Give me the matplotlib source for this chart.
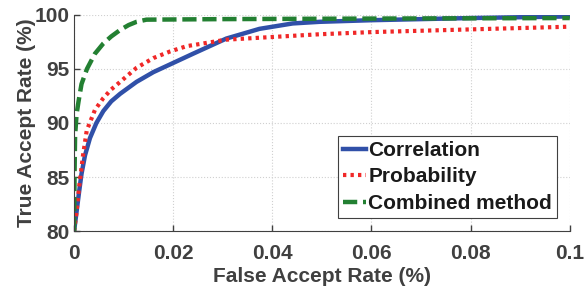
import matplotlib
matplotlib.use("Agg")
import matplotlib.pyplot as plt
import numpy as np

# Data
corr_x = [0, 0.0005, 0.001, 0.0015, 0.0022, 0.0032, 0.0045, 0.0059, 0.0075, 0.0093, 0.0126, 0.016,
          0.0193, 0.024, 0.0307, 0.0374, 0.0441, 0.0495, 0.06, 0.08, 0.1]
corr_y = [80, 81.8, 83.6, 85.3, 87.0, 88.6, 90.0, 91.1, 92.0, 92.7, 93.8, 94.7,
          95.4, 96.4, 97.8, 98.7, 99.2, 99.35, 99.5, 99.7, 99.85]

prob_x = [0, 0.0005, 0.001, 0.0018, 0.00255, 0.0042, 0.0059, 0.0075, 0.0093, 0.0126, 0.016, 0.0193,
          0.0227, 0.0307, 0.0495, 0.06, 0.08, 0.1]
prob_y = [80, 81.8, 84.0, 87.0, 89.3, 91.2, 92.3, 93.1, 93.8, 95.1, 96.0, 96.6,
          97.1, 97.7, 98.2, 98.4, 98.65, 98.9]

comb_x = [0, 0.0001, 0.0002, 0.0005, 0.0009, 0.0015, 0.0026, 0.0042, 0.0059, 0.0075, 0.0093, 0.011,
          0.0126, 0.0146, 0.03, 0.06, 0.1]
comb_y = [80, 85.5, 88.8, 90.8, 92.0, 93.6, 95.0, 96.4, 97.35, 98.0, 98.6, 99.05,
          99.35, 99.55, 99.6, 99.65, 99.7]

xticks = [0, 0.02, 0.04, 0.06, 0.08, 0.1]
xticklabels = ["0", "0.02", "0.04", "0.06", "0.08", "0.1"]
yticks = [80, 85, 90, 95, 100]

plt.rcParams['font.family'] = ['Liberation Sans', 'DejaVu Sans']
plt.rcParams['font.weight'] = 'bold'

fig = plt.figure(figsize=(5.88, 2.9), dpi=100)
ax = fig.add_axes([0.126, 0.203, 0.843, 0.746])

ax.plot(corr_x, corr_y, color='#3050a8', lw=3.2, ls='-', label='Correlation')
ax.plot(prob_x, prob_y, color='#f02828', lw=3.0, ls=(0, (0.8, 1.0)), label='Probability')
ax.plot(comb_x, comb_y, color='#238032', lw=3.2, ls=(0, (3.2, 1.3)), label='Combined method')

ax.set_xlim(0, 0.1)
ax.set_ylim(80, 100)
ax.set_xticks(xticks)
ax.set_xticklabels(xticklabels)
ax.set_yticks(yticks)
gray = '#404040'
ax.tick_params(direction='in', length=4, colors=gray, labelsize=15, width=1)
ax.tick_params(axis='x', pad=9)
ax.tick_params(axis='y', pad=3)
for lab in ax.get_xticklabels() + ax.get_yticklabels():
    lab.set_fontweight('bold')
ax.grid(True, ls=':', color='#d0d0d0', lw=0.8)
ax.spines['top'].set_visible(False)
ax.spines['right'].set_visible(False)
for s in ['left', 'bottom']:
    ax.spines[s].set_color(gray)
ax.set_xlabel('False Accept Rate (%)', fontsize=15, fontweight='bold', color=gray, labelpad=3)
ax.set_ylabel('True Accept Rate (%)', fontsize=15, fontweight='bold', color=gray, labelpad=-1)

leg = ax.legend(loc='lower right', bbox_to_anchor=(0.975, 0.06), fontsize=15, handlelength=1.1,
                handletextpad=0.1, borderpad=0.25, labelspacing=0.36, fancybox=False,
                framealpha=1, edgecolor='#404040', borderaxespad=0)
leg.get_frame().set_linewidth(0.8)
for t in leg.get_texts():
    t.set_fontweight('bold')
    t.set_color('#1a1a1a')

fig.savefig('out.png', dpi=100)
